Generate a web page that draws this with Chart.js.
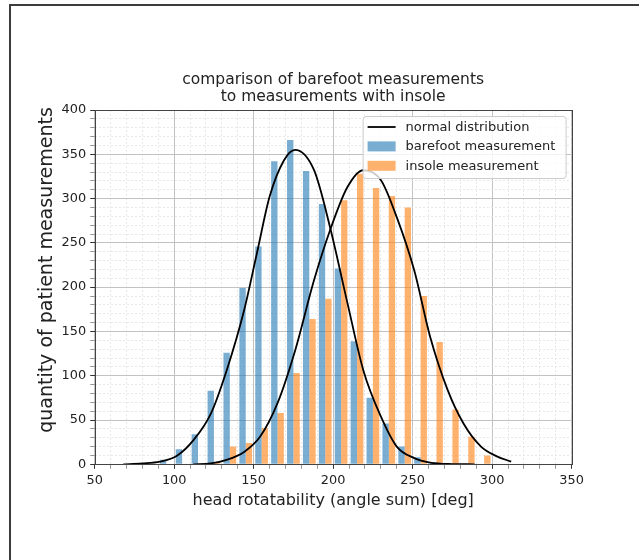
<!DOCTYPE html>
<html>
<head>
<meta charset="utf-8">
<script src="https://cdn.jsdelivr.net/npm/chart.js@4.4.1/dist/chart.umd.min.js"></script>
<style>
html,body{margin:0;padding:0;background:#fff;}
#wrap{position:relative;width:639px;height:560px;overflow:hidden;}
#frame{position:absolute;left:9px;top:4px;right:-4px;bottom:-4px;border-top:2px solid #3c3c3c;border-left:2px solid #3c3c3c;pointer-events:none;}
canvas{display:block;}
</style>
</head>
<body>
<div id="wrap"><canvas id="c" width="639" height="560"></canvas><div id="frame"></div></div>
<script>
// ---- data ----
const binCenters = [95,105,115,125,135,145,155,165,175,185,195,205,215,225,235,245,255,265,275,285,295];
const barefootCounts = [5,17,34,83,126,199,246,342,366,331,294,221,139,75,46,20,8,2,0,0,0];
const insoleCounts   = [0,0,0,2,20,24,41,58,103,164,187,298,328,312,303,290,190,138,62,31,10];

const normalBarefootX = [68,80,91,102,112,123,133,144,152,160,169,176,188,198,209,219,230,240,251,261,275,289];
const normalBarefootY = [0,1,3,10,27,57,106,174,238,302,343,355,332,268,182,106,54,20,7,2,0.3,0];
const normalInsoleX = [112,123,133,144,154,165,176,188,198,209,219,230,240,251,261,272,282,293,303,312];
const normalInsoleY = [0,1,5,14,31,69,128,208,264,313,332,321,279,219,144,84,46,20,9,3];

const xTickValues = [50,100,150,200,250,300,350];
const yTickValues = [0,50,100,150,200,250,300,350,400];

const titleLines = ['comparison of barefoot measurements','to measurements with insole'];
const xTitle = 'head rotatability (angle sum) [deg]';
const yTitle = 'quantity of patient measurements';
const seriesLabels = ['normal distribution','barefoot measurement','insole measurement'];

// ---- build ----
const FONT = 'DejaVu Sans';
const TXT = '#222';
const pts = (xs, ys) => xs.map((x, i) => ({x, y: ys[i]}));

const isMajorX = v => xTickValues.includes(v);
const isMajorY = v => yTickValues.includes(v);

const spines = {
  id: 'spines',
  afterDatasetsDraw(chart) {
    const {ctx, chartArea: a} = chart;
    ctx.save();
    ctx.strokeStyle = '#444';
    ctx.lineWidth = 1;
    ctx.strokeRect(Math.round(a.left) + 0.5, Math.round(a.top) + 0.5, Math.round(a.right - a.left), Math.round(a.bottom - a.top));
    ctx.restore();
  }
};

const yTitlePlugin = {
  id: 'yTitle',
  afterDraw(chart) {
    const {ctx} = chart;
    ctx.save();
    ctx.translate(47, 270);
    ctx.rotate(-Math.PI / 2);
    ctx.font = '19px "' + FONT + '"';
    ctx.fillStyle = TXT;
    ctx.textAlign = 'center';
    ctx.textBaseline = 'middle';
    ctx.fillText(yTitle, 0, 0);
    ctx.restore();
  }
};

const boxLegend = {
  id: 'boxLegend',
  afterDraw(chart) {
    const {ctx, chartArea: a} = chart;
    const items = chart.data.datasets.filter(d => d.showInLegend);
    const w = 203, h = 62, rowH = 19.4;
    const x0 = a.right - 6 - w, y0 = a.top + 6;
    ctx.save();
    ctx.beginPath();
    ctx.roundRect(x0 + 0.5, y0 + 0.5, w, h, 3);
    ctx.fillStyle = 'rgba(255,255,255,0.8)';
    ctx.fill();
    ctx.strokeStyle = '#cccccc';
    ctx.lineWidth = 1;
    ctx.stroke();
    ctx.font = '13px "' + FONT + '"';
    ctx.textBaseline = 'middle';
    ctx.textAlign = 'left';
    items.forEach((d, i) => {
      const cy = y0 + 11 + i * rowH;
      if (d.type === 'line') {
        ctx.strokeStyle = d.borderColor;
        ctx.lineWidth = d.borderWidth;
        ctx.beginPath();
        ctx.moveTo(x0 + 5, cy);
        ctx.lineTo(x0 + 33, cy);
        ctx.stroke();
      } else {
        ctx.fillStyle = d.backgroundColor;
        ctx.fillRect(x0 + 5, cy - 5, 28, 10);
      }
      ctx.fillStyle = TXT;
      ctx.fillText(d.label, x0 + 43, cy + 0.5);
    });
    ctx.restore();
  }
};

const gridColor = (isMajor) => ctx => (ctx.tick && isMajor(ctx.tick.value)) ? '#c2c2c2' : '#e3e3e3';
const gridWidth = (isMajor) => ctx => (ctx.tick && isMajor(ctx.tick.value)) ? 1 : 0.8;
const gridDash = (isMajor) => ctx => (ctx.tick && !isMajor(ctx.tick.value)) ? [2, 2] : [];
const tickCol = (isMajor) => ctx => (ctx.tick && isMajor(ctx.tick.value)) ? '#333' : '#999';

new Chart(document.getElementById('c'), {
  type: 'bar',
  data: {
    datasets: [
      {
        type: 'line', label: seriesLabels[0], showInLegend: true,
        data: pts(normalBarefootX, normalBarefootY),
        borderColor: '#000', borderWidth: 1.8, pointRadius: 0, fill: false,
        cubicInterpolationMode: 'monotone'
      },
      {
        type: 'line', label: seriesLabels[0], showInLegend: false,
        data: pts(normalInsoleX, normalInsoleY),
        borderColor: '#000', borderWidth: 1.8, pointRadius: 0, fill: false,
        cubicInterpolationMode: 'monotone'
      },
      {
        type: 'bar', label: seriesLabels[1], showInLegend: true,
        data: pts(binCenters, barefootCounts),
        backgroundColor: 'rgba(31,119,180,0.6)', borderWidth: 0,
        categoryPercentage: 0.8, barPercentage: 1.0
      },
      {
        type: 'bar', label: seriesLabels[2], showInLegend: true,
        data: pts(binCenters, insoleCounts),
        backgroundColor: 'rgba(255,127,14,0.6)', borderWidth: 0,
        categoryPercentage: 0.8, barPercentage: 1.0
      }
    ]
  },
  options: {
    responsive: false,
    animation: false,
    layout: { padding: { left: 10, right: 67.4, top: 60, bottom: 35.7 } },
    plugins: {
      legend: { display: false },
      tooltip: { enabled: false },
      title: {
        display: true, text: titleLines, fullSize: false, color: TXT,
        font: { family: FONT, size: 15.5, weight: 'normal', lineHeight: 1.1 },
        padding: { top: 11.5, bottom: 4.4 }
      }
    },
    scales: {
      x: {
        type: 'linear', min: 50, max: 350, offset: false,
        afterFit: s => { s.height = 60; },
        ticks: {
          stepSize: 10, autoSkip: false, maxRotation: 0, padding: 4,
          color: TXT, font: { family: FONT, size: 12.9 },
          callback: v => isMajorX(v) ? String(v) : ''
        },
        grid: {
          offset: false, color: gridColor(isMajorX), lineWidth: gridWidth(isMajorX),
          tickLength: 4.5, tickColor: tickCol(isMajorX), tickWidth: 1
        },
        border: { display: false, dash: gridDash(isMajorX) },
        title: {
          display: true, text: xTitle, color: TXT,
          font: { family: FONT, size: 16 }, padding: { top: 0, bottom: 13.7 }
        }
      },
      y: {
        type: 'linear', min: 0, max: 400,
        afterFit: s => { s.width = 84.7; },
        ticks: {
          stepSize: 10, autoSkip: false, padding: 4,
          color: TXT, font: { family: FONT, size: 12.9 },
          callback: v => isMajorY(v) ? String(v) : ''
        },
        grid: {
          color: gridColor(isMajorY), lineWidth: gridWidth(isMajorY),
          tickLength: 4.5, tickColor: tickCol(isMajorY), tickWidth: 1
        },
        border: { display: false, dash: gridDash(isMajorY) }
      }
    }
  },
  plugins: [spines, yTitlePlugin, boxLegend]
});
</script>
</body>
</html>
